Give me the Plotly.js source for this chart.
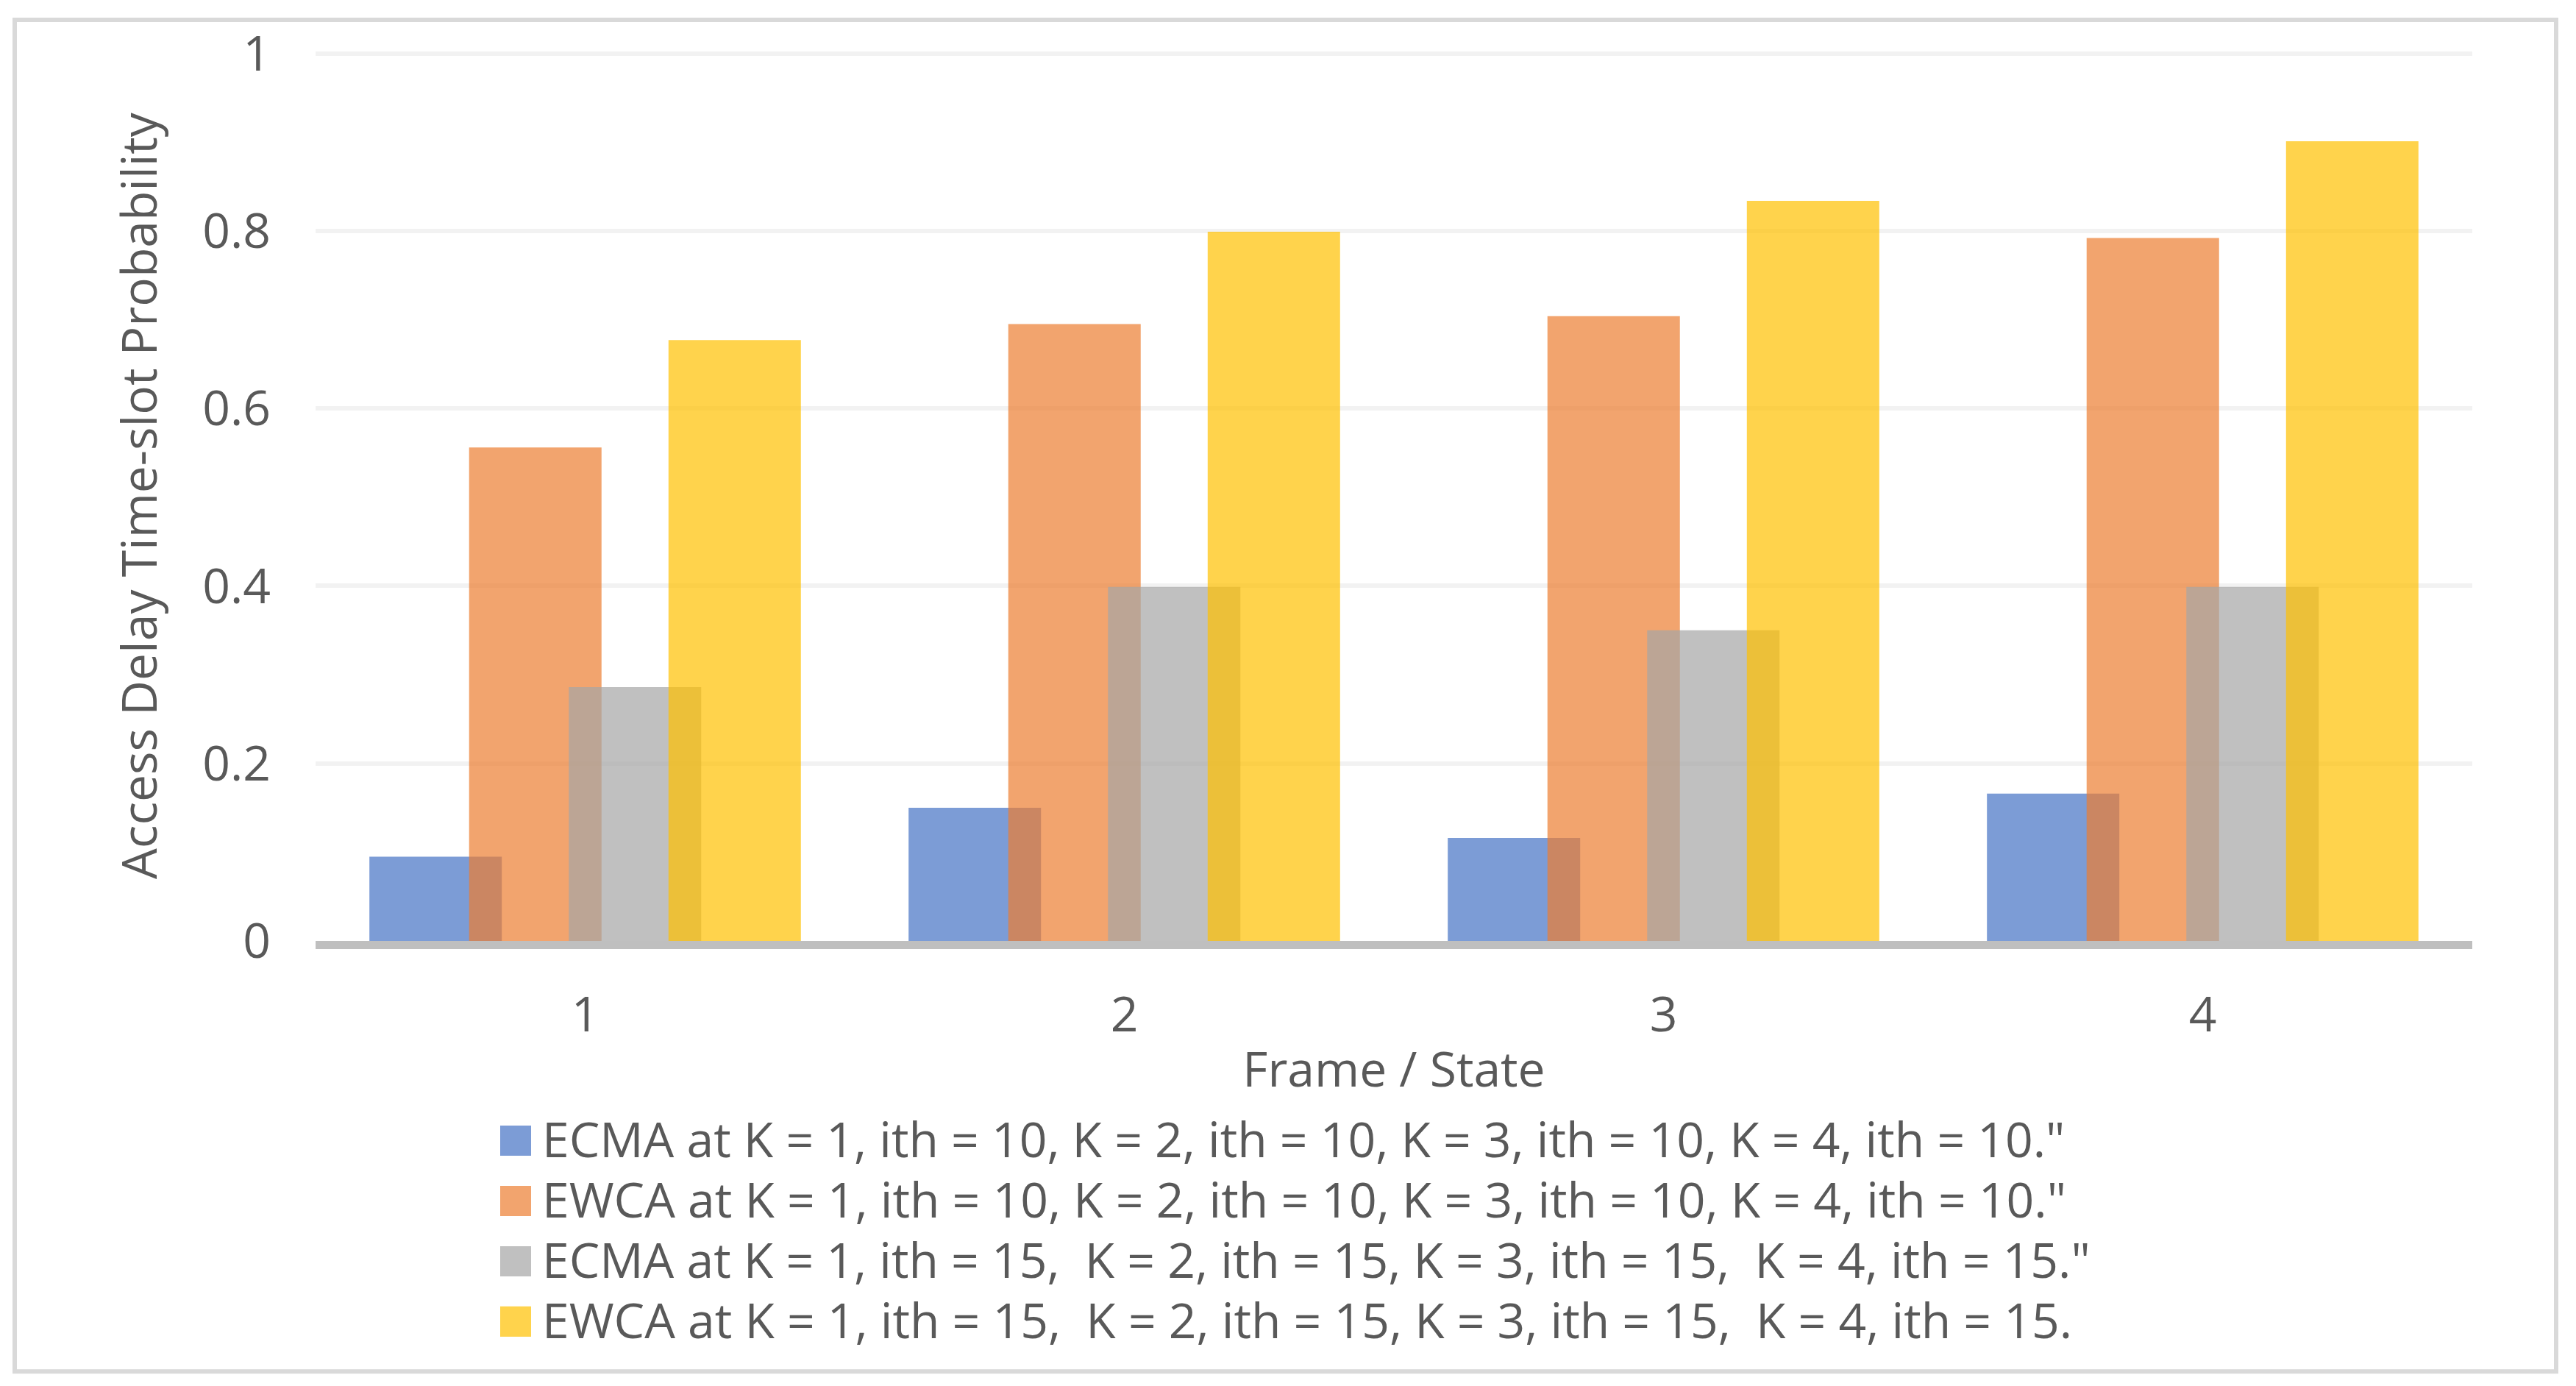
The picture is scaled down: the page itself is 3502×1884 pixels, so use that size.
<!DOCTYPE html>
<html>
<head>
<meta charset="utf-8">
<script src="https://cdn.plot.ly/plotly-3.0.1.min.js"></script>
<style>
html, body { margin: 0; padding: 0; background: #ffffff; overflow: hidden; }
#chart { width: 3502px; height: 1884px; }
</style>
</head>
<body>
<div id="chart"></div>
<script>
// ---- data ----
const frames = [1, 2, 3, 4];
const frameLabels = ['1', '2', '3', '4'];
const ecmaIth10 = [0.095, 0.150, 0.116, 0.166];
const ewcaIth10 = [0.556, 0.695, 0.704, 0.792];
const ecmaIth15 = [0.286, 0.399, 0.350, 0.399];
const ewcaIth15 = [0.677, 0.799, 0.834, 0.901];
const seriesNames = [
  'ECMA at K = 1, ith = 10, K = 2, ith = 10, K = 3, ith = 10, K = 4, ith = 10."',
  'EWCA at K = 1, ith = 10, K = 2, ith = 10, K = 3, ith = 10, K = 4, ith = 10."',
  'ECMA at K = 1, ith = 15,\u00a0 K = 2, ith = 15, K = 3, ith = 15,\u00a0 K = 4, ith = 15."',
  'EWCA at K = 1, ith = 15,\u00a0 K = 2, ith = 15, K = 3, ith = 15,\u00a0 K = 4, ith = 15.'
];
const yTickVals = [0, 0.2, 0.4, 0.6, 0.8, 1];
const yTickText = ['0', '0.2', '0.4', '0.6', '0.8', '1'];
const xTitle = 'Frame / State';
const yTitle = 'Access Delay Time-slot Probability';

// ---- styling ----
const seriesValues = [ecmaIth10, ewcaIth10, ecmaIth15, ewcaIth15];
const seriesColors = ['rgba(68,114,196,0.7)', 'rgba(237,125,49,0.7)', 'rgba(165,165,165,0.7)', 'rgba(255,192,0,0.7)'];
const W = 3502, H = 1884;
const M = { l: 429, r: 141, t: 69.4, b: 605 };
const PW = W - M.l - M.r, PH = H - M.t - M.b;
const FONT = 'Open Sans, Noto Sans, DejaVu Sans, sans-serif';
const TXT = '#595959';
const FS = 66;
const barWidth = 0.2456;
const barStep = 0.1849;
const firstOffset = -(3 * barStep + barWidth) / 2;

const px = x => (x - M.l) / PW;
const py = y => (M.t + PH - y) / PH;

const traces = seriesValues.map((vals, i) => ({
  type: 'bar',
  name: seriesNames[i],
  x: frames,
  y: vals,
  width: barWidth,
  offset: firstOffset + i * barStep,
  marker: { color: seriesColors[i], line: { width: 0 } },
  showlegend: false,
  hoverinfo: 'x+y+name'
}));

const shapes = [{
  type: 'rect', xref: 'paper', yref: 'paper',
  x0: px(20), x1: px(3475), y0: py(27.5), y1: py(1864),
  line: { color: '#D9D9D9', width: 6 }, fillcolor: 'rgba(0,0,0,0)', layer: 'below'
}];
const annotations = [];
const rowY0 = 1549, rowStep = 81.9;
seriesNames.forEach((nm, i) => {
  const cy = rowY0 + i * rowStep;
  shapes.push({
    type: 'rect', xref: 'paper', yref: 'paper',
    x0: px(680), x1: px(722), y0: py(cy + 1.5 - 20.5), y1: py(cy + 1.5 + 20.5),
    line: { width: 0 }, fillcolor: seriesColors[i]
  });
  annotations.push({
    xref: 'paper', yref: 'paper', x: px(735), y: py(cy - 2),
    xanchor: 'left', yanchor: 'middle', showarrow: false,
    text: nm, align: 'left',
    font: { family: FONT, size: FS, color: TXT }
  });
});

const layout = {
  width: W, height: H,
  margin: M,
  paper_bgcolor: '#ffffff', plot_bgcolor: '#ffffff',
  barmode: 'overlay',
  showlegend: false,
  font: { family: FONT, size: FS, color: TXT },
  xaxis: {
    type: 'linear', range: [0.5, 4.5],
    tickvals: frames, ticktext: frameLabels,
    showgrid: false, zeroline: false,
    showline: true, linecolor: '#BFBFBF', linewidth: 11,
    ticks: '', ticklabelstandoff: 33,
    tickfont: { family: FONT, size: FS, color: TXT },
    title: { text: xTitle, font: { family: FONT, size: FS, color: TXT }, standoff: 15 },
    fixedrange: true
  },
  yaxis: {
    range: [0, 1.003],
    tickvals: yTickVals, ticktext: yTickText,
    showgrid: true, gridcolor: '#F2F2F2', gridwidth: 6,
    zeroline: false, showline: false,
    ticks: '', ticklabelstandoff: 60,
    tickfont: { family: FONT, size: FS, color: TXT },
    title: { text: yTitle, font: { family: FONT, size: FS, color: TXT }, standoff: 40 },
    fixedrange: true
  },
  shapes: shapes,
  annotations: annotations
};

Plotly.newPlot('chart', traces, layout, { displayModeBar: false, staticPlot: true });
</script>
</body>
</html>
